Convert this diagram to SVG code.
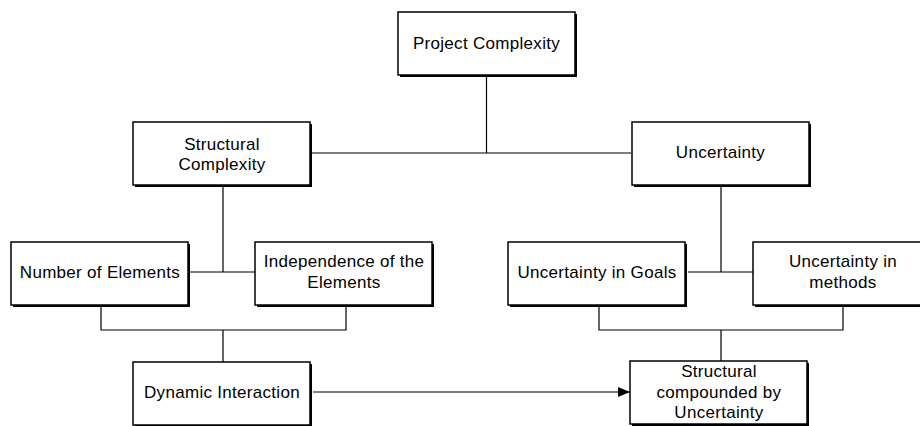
<svg xmlns="http://www.w3.org/2000/svg" width="920" height="426" viewBox="0 0 920 426">
<style>
.shadow{fill:#000}
.box{fill:#fff;stroke:#000;stroke-width:1.5}
.t{font-family:"Liberation Sans",Arial,sans-serif;font-size:17px;letter-spacing:0.3px;fill:#000;text-anchor:middle}
.c{fill:none;stroke:#000;stroke-width:1.2}
</style>
<defs>
<marker id="ah" markerWidth="12" markerHeight="10" refX="12" refY="5" orient="auto" markerUnits="userSpaceOnUse">
<path d="M0,0 L12,5 L0,10 Z" fill="#000"/>
</marker>
</defs>
<rect width="920" height="426" fill="#fff"/>
<g id="connectors">
<path class="c" d="M486.5,76 V153 M311,153 H631"/>
<path class="c" d="M223,186 V272 M190,272 H255"/>
<path class="c" d="M721,186 V272 M688,272 H753"/>
<path class="c" d="M101,307 V330 H346 V307 M223,330 V362"/>
<path class="c" d="M599,307 V330 H843 V307 M721,330 V361"/>
<path class="c" d="M313,392 H630" marker-end="url(#ah)"/>
</g>
<g id="project-complexity">
<rect class="shadow" x="400" y="14" width="177" height="63"/>
<rect class="box" x="398" y="12" width="177" height="63"/>
<text class="t" x="486.5" y="49">Project Complexity</text>
</g>
<g id="structural-complexity">
<rect class="shadow" x="135" y="124" width="177" height="63"/>
<rect class="box" x="133" y="122" width="177" height="63"/>
<text class="t" x="222" y="150">Structural</text>
<text class="t" x="222" y="170">Complexity</text>
</g>
<g id="uncertainty">
<rect class="shadow" x="634" y="124" width="177" height="63"/>
<rect class="box" x="632" y="122" width="177" height="63"/>
<text class="t" x="720.5" y="158">Uncertainty</text>
</g>
<g id="number-of-elements">
<rect class="shadow" x="13" y="244" width="177" height="63"/>
<rect class="box" x="11" y="242" width="177" height="63"/>
<text class="t" x="100" y="278">Number of Elements</text>
</g>
<g id="independence">
<rect class="shadow" x="257" y="244" width="177" height="63"/>
<rect class="box" x="255" y="242" width="177" height="63"/>
<text class="t" x="344" y="267">Independence of the</text>
<text class="t" x="344" y="288">Elements</text>
</g>
<g id="uncertainty-goals">
<rect class="shadow" x="510" y="244" width="177" height="63"/>
<rect class="box" x="508" y="242" width="177" height="63"/>
<text class="t" x="597" y="278">Uncertainty in Goals</text>
</g>
<g id="uncertainty-methods">
<rect class="shadow" x="755" y="244" width="177" height="63"/>
<rect class="box" x="753" y="242" width="177" height="63"/>
<text class="t" x="843" y="267">Uncertainty in</text>
<text class="t" x="843" y="288">methods</text>
</g>
<g id="dynamic-interaction">
<rect class="shadow" x="135" y="364" width="177" height="63"/>
<rect class="box" x="133" y="362" width="177" height="63"/>
<text class="t" x="222" y="398">Dynamic Interaction</text>
</g>
<g id="structural-compounded">
<rect class="shadow" x="632" y="363" width="177" height="63"/>
<rect class="box" x="630" y="361" width="177" height="63"/>
<text class="t" x="719" y="377">Structural</text>
<text class="t" x="719" y="398">compounded by</text>
<text class="t" x="719" y="418">Uncertainty</text>
</g>
</svg>
